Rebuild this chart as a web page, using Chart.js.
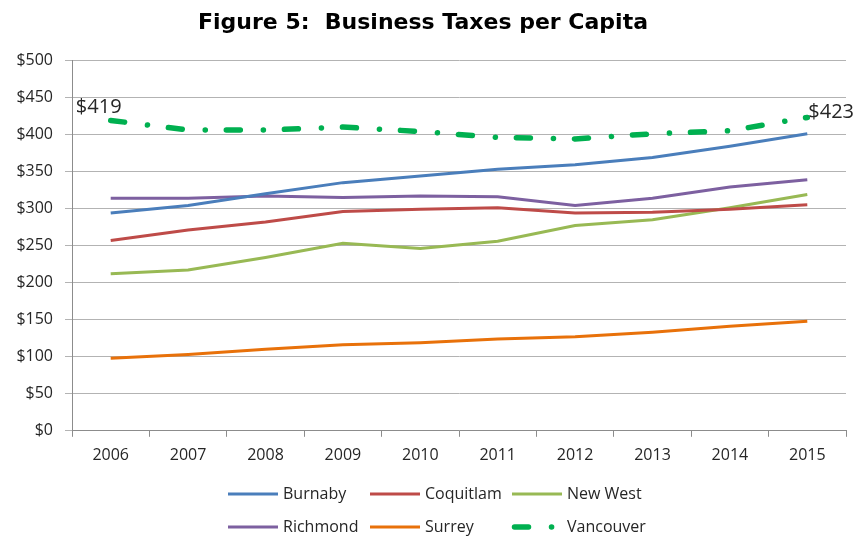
<!DOCTYPE html>
<html>
<head>
<meta charset="utf-8">
<script src="https://cdn.jsdelivr.net/npm/chart.js@4"></script>
<style>
  html, body { margin: 0; padding: 0; background: #fff; }
  #wrap { width: 859px; height: 537px; }
</style>
</head>
<body>
<div id="wrap"><canvas id="chart" width="859" height="537"></canvas></div>
<script>
// Данные графика
const years = ['2006', '2007', '2008', '2009', '2010', '2011', '2012', '2013', '2014', '2015'];
const burnaby   = [294, 304, 320, 335, 344, 353, 359, 369, 384, 401];
const coquitlam = [257, 271, 282, 296, 299, 301, 294, 295, 299, 305];
const newWest   = [212, 217, 234, 253, 246, 256, 277, 285, 301, 319];
const richmond  = [314, 314, 317, 315, 317, 316, 304, 314, 329, 339];
const surrey    = [98, 103, 110, 116, 119, 124, 127, 133, 141, 148];
const vancouver = [419, 406, 406, 410, 404, 396, 394, 401, 405, 423];
const yTicks = [0, 50, 100, 150, 200, 250, 300, 350, 400, 450, 500];

const FONT = "'Open Sans', 'Liberation Sans', sans-serif";
const TEXT = '#262626';

function money(v) { return '$' + v; }

// Подписи первой и последней точки для Ванкувера
const endLabels = {
    id: 'endLabels',
    afterDatasetsDraw(chart) {
        const idx = chart.data.datasets.findIndex(d => d.label === 'Vancouver');
        const meta = chart.getDatasetMeta(idx);
        const data = chart.data.datasets[idx].data;
        const ctx = chart.ctx;
        const first = meta.data[0];
        const last = meta.data[data.length - 1];
        ctx.save();
        ctx.font = '20px ' + FONT;
        ctx.fillStyle = TEXT;
        ctx.textBaseline = 'middle';
        ctx.textAlign = 'center';
        ctx.fillText(money(data[0]), first.x - 12, first.y - 13);
        ctx.textAlign = 'left';
        ctx.fillText(money(data[data.length - 1]), last.x + 1, last.y - 5);
        ctx.restore();
    }
};

// Легенда в виде сетки 3 колонки x 2 строки
const gridLegend = {
    id: 'gridLegend',
    afterDraw(chart) {
        const ctx = chart.ctx;
        const area = chart.chartArea;
        const colW = 142;
        const left = (area.left + area.right) / 2 - 1.5 * colW - 18;
        const rows = [494, 527];
        ctx.save();
        ctx.font = '16px ' + FONT;
        ctx.textBaseline = 'middle';
        chart.data.datasets.forEach((ds, i) => {
            const x = left + (i % 3) * colW;
            const y = rows[Math.floor(i / 3)];
            ctx.strokeStyle = ds.borderColor;
            if (ds.borderDash) {
                ctx.lineWidth = ds.borderWidth;
                ctx.lineCap = 'round';
                ctx.setLineDash(ds.borderDash);
                ctx.beginPath();
                ctx.moveTo(x + 2.5, y);
                ctx.lineTo(x + 47.5, y);
                ctx.stroke();
            } else {
                ctx.lineWidth = 3;
                ctx.lineCap = 'butt';
                ctx.setLineDash([]);
                ctx.beginPath();
                ctx.moveTo(x, y);
                ctx.lineTo(x + 50, y);
                ctx.stroke();
            }
            ctx.fillStyle = TEXT;
            ctx.fillText(ds.label, x + 55, y);
        });
        ctx.restore();
    }
};

function line(label, data, color) {
    return {
        label: label,
        data: data,
        borderColor: color,
        backgroundColor: color,
        borderWidth: 3,
        pointRadius: 0,
        pointHoverRadius: 0,
        tension: 0,
        fill: false
    };
}

const vanc = line('Vancouver', vancouver, '#00B050');
vanc.borderWidth = 5.5;
vanc.borderDash = [14, 23, 0.1, 21];
vanc.borderCapStyle = 'round';

new Chart(document.getElementById('chart').getContext('2d'), {
    type: 'line',
    data: {
        labels: years,
        datasets: [
            line('Burnaby', burnaby, '#4A7EBB'),
            line('Coquitlam', coquitlam, '#BE4B48'),
            line('New West', newWest, '#98B954'),
            line('Richmond', richmond, '#7D60A0'),
            line('Surrey', surrey, '#E8710A'),
            vanc
        ]
    },
    options: {
        responsive: false,
        animation: false,
        layout: { padding: { left: 0, right: 13, top: 0, bottom: 63 } },
        plugins: {
            legend: { display: false },
            tooltip: { enabled: false },
            title: {
                display: true,
                text: 'Figure 5:  Business Taxes per Capita',
                color: '#000',
                font: { family: "'DejaVu Sans', sans-serif", size: 22, weight: 'bold' },
                padding: { top: 10, bottom: 24 }
            }
        },
        scales: {
            x: {
                offset: true,
                grid: {
                    offset: true,
                    drawOnChartArea: false,
                    tickLength: 6,
                    color: '#8c8c8c'
                },
                border: { color: '#8c8c8c' },
                ticks: { color: TEXT, padding: 9, font: { family: FONT, size: 16 } }
            },
            y: {
                min: 0,
                max: 500,
                afterFit(scale) { scale.width = 72; },
                afterBuildTicks(scale) { scale.ticks = yTicks.map(v => ({ value: v })); },
                grid: { color: '#b3b3b3', tickLength: 7 },
                border: { color: '#8c8c8c' },
                ticks: {
                    color: TEXT,
                    padding: 12,
                    font: { family: FONT, size: 16 },
                    callback: v => money(v)
                }
            }
        }
    },
    plugins: [endLabels, gridLegend]
});
</script>
</body>
</html>
